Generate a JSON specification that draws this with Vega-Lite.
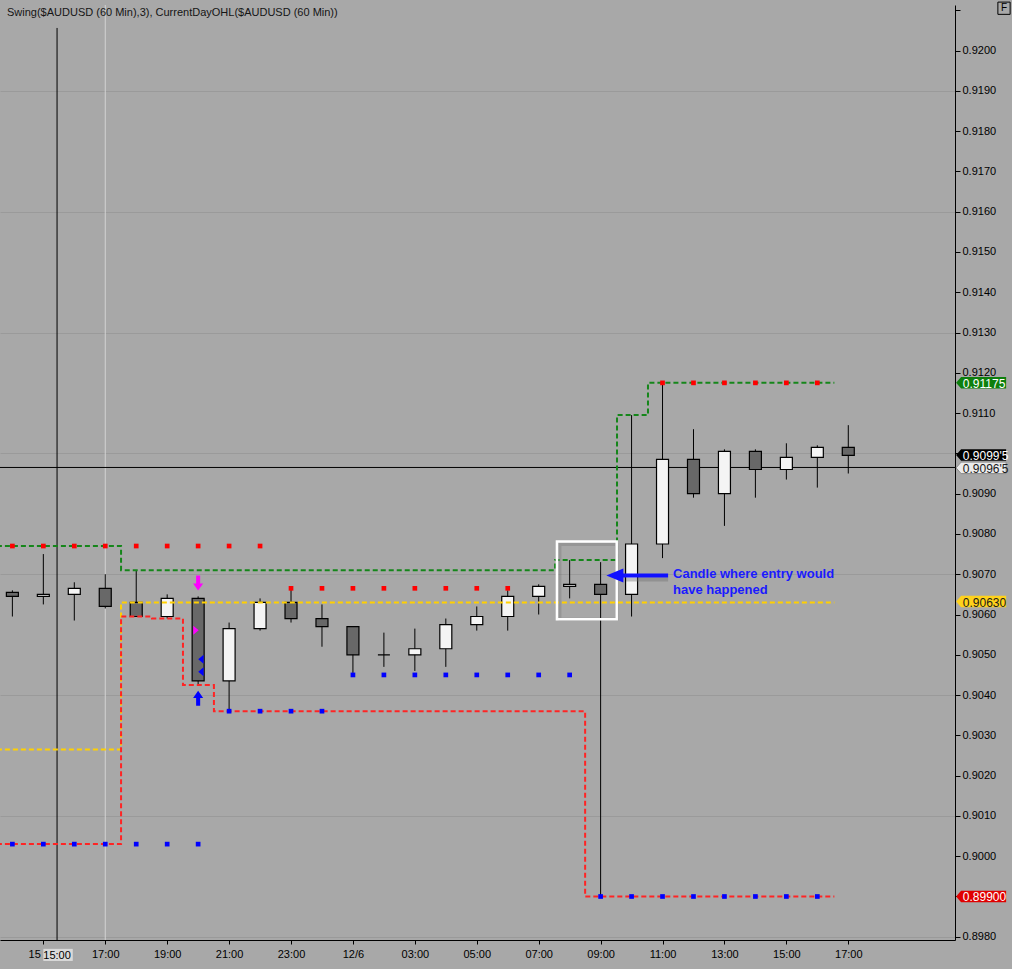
{
  "$schema": "https://vega.github.io/schema/vega-lite/v6.json",
  "width": 955,
  "height": 935,
  "autosize": {"type": "none"},
  "padding": {"left": 0, "top": 5, "right": 57, "bottom": 29},
  "background": "#a8a8a8",
  "title": {
    "text": "Swing($AUDUSD (60 Min),3), CurrentDayOHL($AUDUSD (60 Min))",
    "anchor": "start",
    "frame": "group",
    "orient": "top",
    "offset": -18,
    "dx": 7,
    "fontSize": 11,
    "fontWeight": "normal",
    "font": "Liberation Sans",
    "color": "#151515"
  },
  "config": {"view": {"stroke": null}, "font": "Liberation Sans"},
  "datasets": {
    "session": [{"t": 17}],
    "crosshair": [{"p": 0.90965}],
    "cursor": [{"t": 15.443, "p": 0.92056, "p2": 0.89792, "label": "15:00"}],
    "candles": [
      {"t": 14, "o": 0.90655, "h": 0.90660, "l": 0.90595, "c": 0.90645},
      {"t": 15, "o": 0.90645, "h": 0.90750, "l": 0.90625, "c": 0.90650},
      {"t": 16, "o": 0.90650, "h": 0.90680, "l": 0.90585, "c": 0.90665},
      {"t": 17, "o": 0.90665, "h": 0.90700, "l": 0.90615, "c": 0.90620},
      {"t": 18, "o": 0.90630, "h": 0.90710, "l": 0.90595, "c": 0.90595},
      {"t": 19, "o": 0.90595, "h": 0.90650, "l": 0.90590, "c": 0.90640},
      {"t": 20, "o": 0.90640, "h": 0.90645, "l": 0.90425, "c": 0.90435},
      {"t": 21, "o": 0.90435, "h": 0.90580, "l": 0.90360, "c": 0.90565},
      {"t": 22, "o": 0.90565, "h": 0.90640, "l": 0.90560, "c": 0.90630},
      {"t": 23, "o": 0.90630, "h": 0.90665, "l": 0.90580, "c": 0.90590},
      {"t": 24, "o": 0.90590, "h": 0.90625, "l": 0.90520, "c": 0.90570},
      {"t": 25, "o": 0.90570, "h": 0.90570, "l": 0.90455, "c": 0.90500},
      {"t": 26, "o": 0.90500, "h": 0.90555, "l": 0.90470, "c": 0.90500},
      {"t": 27, "o": 0.90500, "h": 0.90565, "l": 0.90460, "c": 0.90515},
      {"t": 28, "o": 0.90515, "h": 0.90590, "l": 0.90470, "c": 0.90575},
      {"t": 29, "o": 0.90575, "h": 0.90620, "l": 0.90560, "c": 0.90595},
      {"t": 30, "o": 0.90595, "h": 0.90660, "l": 0.90560, "c": 0.90645},
      {"t": 31, "o": 0.90645, "h": 0.90675, "l": 0.90600, "c": 0.90670},
      {"t": 32, "o": 0.90670, "h": 0.90735, "l": 0.90640, "c": 0.90675},
      {"t": 33, "o": 0.90675, "h": 0.90730, "l": 0.89900, "c": 0.90650},
      {"t": 34, "o": 0.90650, "h": 0.91095, "l": 0.90595, "c": 0.90775},
      {"t": 35, "o": 0.90775, "h": 0.91175, "l": 0.90740, "c": 0.90985},
      {"t": 36, "o": 0.90985, "h": 0.91060, "l": 0.90890, "c": 0.90900},
      {"t": 37, "o": 0.90900, "h": 0.91010, "l": 0.90820, "c": 0.91005},
      {"t": 38, "o": 0.91005, "h": 0.91010, "l": 0.90890, "c": 0.90960},
      {"t": 39, "o": 0.90960, "h": 0.91025, "l": 0.90935, "c": 0.90990},
      {"t": 40, "o": 0.90990, "h": 0.91020, "l": 0.90915, "c": 0.91015},
      {"t": 41, "o": 0.91015, "h": 0.91070, "l": 0.90950, "c": 0.90995}
    ],
    "levels": [
      {"s": "high", "t": 13.5, "p": 0.90770},
      {"s": "high", "t": 17.51, "p": 0.90710},
      {"s": "high", "t": 31.53, "p": 0.90735},
      {"s": "high", "t": 33.53, "p": 0.91095},
      {"s": "high", "t": 34.53, "p": 0.91175},
      {"s": "high", "t": 40.55, "p": 0.91175},
      {"s": "open", "t": 13.5, "p": 0.90265},
      {"s": "open", "t": 17.51, "p": 0.90630},
      {"s": "open", "t": 40.55, "p": 0.90630},
      {"s": "low", "t": 13.5, "p": 0.90030},
      {"s": "low", "t": 17.51, "p": 0.90595},
      {"s": "low", "t": 18.51, "p": 0.90590},
      {"s": "low", "t": 19.51, "p": 0.90425},
      {"s": "low", "t": 20.51, "p": 0.90360},
      {"s": "low", "t": 32.5, "p": 0.89900},
      {"s": "low", "t": 40.55, "p": 0.89900}
    ],
    "swings": [
      {"k": "hi", "t": 14, "p": 0.9077}, {"k": "hi", "t": 15, "p": 0.9077}, {"k": "hi", "t": 16, "p": 0.9077},
      {"k": "hi", "t": 17, "p": 0.9077}, {"k": "hi", "t": 18, "p": 0.9077}, {"k": "hi", "t": 19, "p": 0.9077},
      {"k": "hi", "t": 20, "p": 0.9077}, {"k": "hi", "t": 21, "p": 0.9077}, {"k": "hi", "t": 22, "p": 0.9077},
      {"k": "hi", "t": 23, "p": 0.90665}, {"k": "hi", "t": 24, "p": 0.90665}, {"k": "hi", "t": 25, "p": 0.90665},
      {"k": "hi", "t": 26, "p": 0.90665}, {"k": "hi", "t": 27, "p": 0.90665}, {"k": "hi", "t": 28, "p": 0.90665},
      {"k": "hi", "t": 29, "p": 0.90665}, {"k": "hi", "t": 30, "p": 0.90665},
      {"k": "hi", "t": 35, "p": 0.91175}, {"k": "hi", "t": 36, "p": 0.91175}, {"k": "hi", "t": 37, "p": 0.91175},
      {"k": "hi", "t": 38, "p": 0.91175}, {"k": "hi", "t": 39, "p": 0.91175}, {"k": "hi", "t": 40, "p": 0.91175},
      {"k": "lo", "t": 14, "p": 0.9003}, {"k": "lo", "t": 15, "p": 0.9003}, {"k": "lo", "t": 16, "p": 0.9003},
      {"k": "lo", "t": 17, "p": 0.9003}, {"k": "lo", "t": 18, "p": 0.9003}, {"k": "lo", "t": 19, "p": 0.9003},
      {"k": "lo", "t": 20, "p": 0.9003},
      {"k": "lo", "t": 21, "p": 0.9036}, {"k": "lo", "t": 22, "p": 0.9036}, {"k": "lo", "t": 23, "p": 0.9036},
      {"k": "lo", "t": 24, "p": 0.9036},
      {"k": "lo", "t": 25, "p": 0.9045}, {"k": "lo", "t": 26, "p": 0.9045}, {"k": "lo", "t": 27, "p": 0.9045},
      {"k": "lo", "t": 28, "p": 0.9045}, {"k": "lo", "t": 29, "p": 0.9045}, {"k": "lo", "t": 30, "p": 0.9045},
      {"k": "lo", "t": 31, "p": 0.9045}, {"k": "lo", "t": 32, "p": 0.9045},
      {"k": "lo", "t": 33, "p": 0.899}, {"k": "lo", "t": 34, "p": 0.899}, {"k": "lo", "t": 35, "p": 0.899},
      {"k": "lo", "t": 36, "p": 0.899}, {"k": "lo", "t": 37, "p": 0.899}, {"k": "lo", "t": 38, "p": 0.899},
      {"k": "lo", "t": 39, "p": 0.899}, {"k": "lo", "t": 40, "p": 0.899}
    ],
    "trades": [
      {"kind": "sell", "t": 20, "p": 0.90678},
      {"kind": "buy", "t": 20, "p": 0.90392},
      {"kind": "entry", "t": 19.93, "p": 0.90561},
      {"kind": "exit", "t": 20.09, "p": 0.90489},
      {"kind": "exit", "t": 20.09, "p": 0.90458}
    ],
    "box": [{"t1": 31.59, "t2": 33.52, "p1": 0.90781, "p2": 0.90588}],
    "arrow": [{"tip": 33.46, "t1": 33.72, "t2": 35.18, "p": 0.90697}],
    "note": [
      {"t": 35.34, "p": 0.90700, "line": "Candle where entry would"},
      {"t": 35.34, "p": 0.90661, "line": "have happened"}
    ],
    "tags": [
      {"kind": "high", "p": 0.91175, "label": "0.91175"},
      {"kind": "last", "p": 0.90996, "label": "0.9099'5"},
      {"kind": "cursor", "p": 0.90964, "label": "0.9096'5"},
      {"kind": "open", "p": 0.90632, "label": "0.90630"},
      {"kind": "low", "p": 0.89900, "label": "0.89900"}
    ],
    "corner": [{"label": "F"}]
  },
  "layer": [
    {
      "data": {"name": "session"},
      "mark": {"type": "rule", "color": "#d2d2d2", "strokeWidth": 1},
      "encoding": {
        "x": {
          "field": "t", "type": "quantitative",
          "scale": {"domain": [13.6, 44.447], "nice": false, "zero": false, "padding": 0},
          "axis": {
            "title": null, "orient": "bottom", "zindex": 0,
            "values": [15, 17, 19, 21, 23, 25, 27, 29, 31, 33, 35, 37, 39, 41],
            "labelExpr": "datum.value == 15 ? '15' : datum.value == 25 ? '12/6' : pad(toString(datum.value % 24), 2, '0', 'left') + ':00'",
            "labelAlign": {"condition": {"test": "datum.value == 15", "value": "right"}, "value": "center"},
            "labelOffset": {"condition": {"test": "datum.value == 15", "value": -3}, "value": 0},
            "domainColor": "#000", "domainWidth": 1,
            "tickColor": "#000", "tickSize": 4, "tickWidth": 1,
            "labelColor": "#000", "labelFontSize": 11, "labelFont": "Liberation Sans",
            "labelPadding": 4, "labelFlush": false, "labelOverlap": false, "grid": false
          }
        }
      }
    },
    {
      "data": {"name": "crosshair"},
      "mark": {"type": "rule", "color": "#000", "strokeWidth": 1},
      "encoding": {
        "y": {
          "field": "p", "type": "quantitative",
          "scale": {"domain": [0.89792, 0.92113], "nice": false, "zero": false},
          "axis": {
            "title": null, "orient": "right", "zindex": 0,
            "values": [0.898, 0.899, 0.9, 0.901, 0.902, 0.903, 0.904, 0.905, 0.906, 0.907, 0.908, 0.909, 0.91, 0.911, 0.912, 0.913, 0.914, 0.915, 0.916, 0.917, 0.918, 0.919, 0.92, 0.921],
            "labelExpr": "datum.value > 0.9205 || abs(datum.value - 0.899) < 0.00001 || abs(datum.value - 0.91) < 0.00001 ? '' : format(datum.value, '.4f')",
            "domainColor": "#000", "domainWidth": 1,
            "tickColor": "#000", "tickSize": 5, "tickWidth": 1,
            "labelColor": "#000", "labelFontSize": 11, "labelFont": "Liberation Sans",
            "labelPadding": 2, "labelBaseline": "middle", "labelFlush": false, "labelOverlap": false,
            "grid": true, "gridColor": "#9a9a9a", "gridWidth": 1,
            "gridOpacity": {"condition": {"test": "(round(datum.value * 10000) - 8980) % 30 == 0", "value": 1}, "value": 0}
          }
        }
      }
    },
    {
      "data": {"name": "cursor"},
      "mark": {"type": "rule", "color": "#000", "strokeWidth": 1},
      "encoding": {
        "x": {"field": "t", "type": "quantitative", "title": null},
        "y": {"field": "p", "type": "quantitative", "title": null},
        "y2": {"field": "p2"}
      }
    },
    {
      "data": {"name": "candles"},
      "mark": {"type": "rule", "color": "#000", "strokeWidth": 1},
      "encoding": {
        "x": {"field": "t", "type": "quantitative", "title": null},
        "y": {"field": "l", "type": "quantitative", "title": null},
        "y2": {"field": "h"}
      }
    },
    {
      "data": {"name": "candles"},
      "mark": {"type": "bar", "size": 12, "stroke": "#000", "strokeWidth": 1.2, "opacity": 1},
      "encoding": {
        "x": {"field": "t", "type": "quantitative", "title": null},
        "y": {"field": "o", "type": "quantitative", "title": null},
        "y2": {"field": "c"},
        "fill": {"condition": {"test": "datum.c >= datum.o", "value": "#f4f4f4"}, "value": "#686868"}
      }
    },
    {
      "data": {"name": "levels"},
      "mark": {"type": "line", "interpolate": "step-after", "strokeWidth": 2, "strokeDash": [5, 3], "clip": true},
      "encoding": {
        "x": {"field": "t", "type": "quantitative", "title": null},
        "y": {"field": "p", "type": "quantitative", "title": null},
        "detail": {"field": "s"},
        "stroke": {
          "condition": [
            {"test": "datum.s == 'high'", "value": "#15861a"},
            {"test": "datum.s == 'open'", "value": "#ffd000"}
          ],
          "value": "#ff2424"
        }
      }
    },
    {
      "data": {"name": "swings"},
      "mark": {"type": "point", "shape": "square", "filled": true, "size": 22, "opacity": 1},
      "encoding": {
        "x": {"field": "t", "type": "quantitative", "title": null},
        "y": {"field": "p", "type": "quantitative", "title": null},
        "fill": {"condition": {"test": "datum.k == 'hi'", "value": "#ff0000"}, "value": "#0000ff"}
      }
    },
    {
      "data": {"name": "trades"},
      "transform": [{"filter": "datum.kind == 'sell'"}],
      "mark": {"type": "point", "filled": true, "opacity": 1, "size": 225, "color": "#ff00ff",
        "shape": "M-0.27,-1L0.27,-1L0.27,0.05L0.67,0.05L0,1L-0.67,0.05L-0.27,0.05Z"},
      "encoding": {
        "x": {"field": "t", "type": "quantitative", "title": null},
        "y": {"field": "p", "type": "quantitative", "title": null}
      }
    },
    {
      "data": {"name": "trades"},
      "transform": [{"filter": "datum.kind == 'buy'"}],
      "mark": {"type": "point", "filled": true, "opacity": 1, "size": 225, "color": "#0000ff",
        "shape": "M-0.27,1L0.27,1L0.27,-0.05L0.67,-0.05L0,-1L-0.67,-0.05L-0.27,-0.05Z"},
      "encoding": {
        "x": {"field": "t", "type": "quantitative", "title": null},
        "y": {"field": "p", "type": "quantitative", "title": null}
      }
    },
    {
      "data": {"name": "trades"},
      "transform": [{"filter": "datum.kind == 'entry'"}],
      "mark": {"type": "point", "filled": true, "opacity": 1, "size": 81, "color": "#ff00ff",
        "shape": "M-0.6,-1L0.6,0L-0.6,1Z"},
      "encoding": {
        "x": {"field": "t", "type": "quantitative", "title": null},
        "y": {"field": "p", "type": "quantitative", "title": null}
      }
    },
    {
      "data": {"name": "trades"},
      "transform": [{"filter": "datum.kind == 'exit'"}],
      "mark": {"type": "point", "filled": true, "opacity": 1, "size": 81, "color": "#0000ff",
        "shape": "M0.6,-1L-0.6,0L0.6,1Z"},
      "encoding": {
        "x": {"field": "t", "type": "quantitative", "title": null},
        "y": {"field": "p", "type": "quantitative", "title": null}
      }
    },
    {
      "data": {"name": "box"},
      "mark": {"type": "rect", "fillOpacity": 0, "stroke": "#6e6e6e", "strokeWidth": 3, "strokeOpacity": 0.3, "xOffset": 3, "yOffset": 3},
      "encoding": {
        "x": {"field": "t1", "type": "quantitative", "title": null},
        "x2": {"field": "t2"},
        "y": {"field": "p1", "type": "quantitative", "title": null},
        "y2": {"field": "p2"}
      }
    },
    {
      "data": {"name": "box"},
      "mark": {"type": "rect", "fillOpacity": 0, "stroke": "#ffffff", "strokeWidth": 2.5},
      "encoding": {
        "x": {"field": "t1", "type": "quantitative", "title": null},
        "x2": {"field": "t2"},
        "y": {"field": "p1", "type": "quantitative", "title": null},
        "y2": {"field": "p2"}
      }
    },
    {
      "data": {"name": "arrow"},
      "mark": {"type": "rule", "color": "#6e6e6e", "strokeWidth": 4, "opacity": 0.4, "xOffset": 3, "yOffset": 4},
      "encoding": {
        "x": {"field": "t1", "type": "quantitative", "title": null},
        "x2": {"field": "t2"},
        "y": {"field": "p", "type": "quantitative", "title": null}
      }
    },
    {
      "data": {"name": "arrow"},
      "mark": {"type": "rule", "color": "#1010ff", "strokeWidth": 4},
      "encoding": {
        "x": {"field": "t1", "type": "quantitative", "title": null},
        "x2": {"field": "t2"},
        "y": {"field": "p", "type": "quantitative", "title": null}
      }
    },
    {
      "data": {"name": "arrow"},
      "mark": {"type": "point", "filled": true, "opacity": 1, "size": 289, "color": "#1010ff",
        "shape": "M-1,0L1,-0.82L1,0.82Z"},
      "encoding": {
        "x": {"field": "tip", "type": "quantitative", "title": null},
        "y": {"field": "p", "type": "quantitative", "title": null}
      }
    },
    {
      "data": {"name": "note"},
      "mark": {"type": "text", "align": "left", "baseline": "middle", "fontSize": 13, "fontWeight": "bold", "font": "Liberation Sans", "color": "#1a1aff"},
      "encoding": {
        "x": {"field": "t", "type": "quantitative", "title": null},
        "y": {"field": "p", "type": "quantitative", "title": null},
        "text": {"field": "line"}
      }
    },
    {
      "data": {"name": "tags"},
      "mark": {"type": "point", "filled": true, "opacity": 1, "size": 2500, "stroke": "#8a8a8a", "strokeWidth": 1,
        "shape": "M-1,0L-0.8,-0.23L1,-0.23L1,0.23L-0.8,0.23Z"},
      "encoding": {
        "x": {"datum": 45.29, "type": "quantitative", "title": null},
        "y": {"field": "p", "type": "quantitative", "title": null},
        "fill": {
          "condition": [
            {"test": "datum.kind == 'high'", "value": "#0d7f0d"},
            {"test": "datum.kind == 'last'", "value": "#000000"},
            {"test": "datum.kind == 'cursor'", "value": "#ececec"},
            {"test": "datum.kind == 'open'", "value": "#ffd21c"}
          ],
          "value": "#e00000"
        },
        "strokeOpacity": {"condition": {"test": "datum.kind == 'cursor'", "value": 1}, "value": 0}
      }
    },
    {
      "data": {"name": "tags"},
      "mark": {"type": "text", "align": "left", "baseline": "middle", "fontSize": 12, "font": "Liberation Sans", "dy": 1},
      "encoding": {
        "x": {"datum": 44.70, "type": "quantitative", "title": null},
        "y": {"field": "p", "type": "quantitative", "title": null},
        "text": {"field": "label"},
        "fill": {
          "condition": {"test": "datum.kind == 'cursor' || datum.kind == 'open'", "value": "#1a1a1a"},
          "value": "#ffffff"
        }
      }
    },
    {
      "data": {"name": "cursor"},
      "mark": {"type": "rect", "color": "#dadada", "opacity": 1},
      "encoding": {
        "x": {"datum": 15.0, "type": "quantitative", "title": null},
        "x2": {"datum": 15.95},
        "y": {"datum": 0.89770, "type": "quantitative", "title": null},
        "y2": {"datum": 0.89740}
      }
    },
    {
      "data": {"name": "cursor"},
      "mark": {"type": "text", "align": "center", "baseline": "middle", "fontSize": 11, "font": "Liberation Sans", "color": "#000"},
      "encoding": {
        "x": {"field": "t", "type": "quantitative", "title": null},
        "y": {"datum": 0.89752, "type": "quantitative", "title": null},
        "text": {"field": "label"}
      }
    },
    {
      "data": {"name": "corner"},
      "mark": {"type": "point", "shape": "square", "filled": false, "size": 150, "stroke": "#000", "strokeWidth": 1, "opacity": 1},
      "encoding": {
        "x": {"datum": 46.03, "type": "quantitative", "title": null},
        "y": {"datum": 0.92105, "type": "quantitative", "title": null}
      }
    },
    {
      "data": {"name": "corner"},
      "mark": {"type": "text", "align": "center", "baseline": "middle", "fontSize": 10, "font": "Liberation Sans", "color": "#000"},
      "encoding": {
        "x": {"datum": 46.03, "type": "quantitative", "title": null},
        "y": {"datum": 0.92105, "type": "quantitative", "title": null},
        "text": {"field": "label"}
      }
    }
  ]
}
